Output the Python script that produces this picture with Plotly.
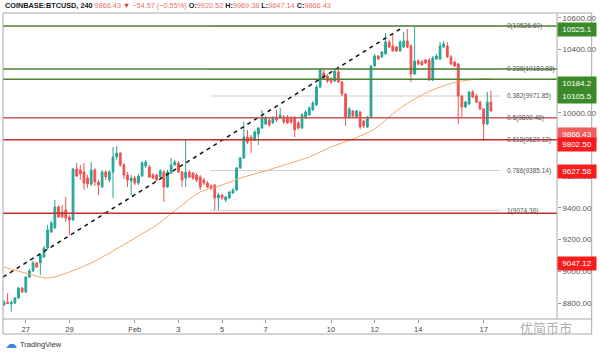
import plotly.graph_objects as go
import pandas as pd

# ---- candle data (BTCUSD, 4h) ----
opens = [8787, 8806, 8794, 8800, 8832, 8895, 8870, 8964, 9002, 9053,
         9053, 9090, 9147, 9248, 9274, 9406, 9375, 9387, 9343, 9324,
         9646, 9640, 9627, 9589, 9551, 9640, 9564, 9533, 9627, 9577,
         9627, 9722, 9747, 9672, 9608, 9570, 9589, 9558, 9602, 9665,
         9659, 9608, 9608, 9596, 9627, 9533, 9621, 9672, 9684, 9627,
         9589, 9627, 9621, 9608, 9596, 9577, 9558, 9539, 9545, 9463,
         9482, 9450, 9463, 9495, 9514, 9653, 9716, 9848, 9848, 9829,
         9867, 9905, 9930, 9956, 9937, 9975, 9968, 9975, 9975, 9968,
         9968, 9937, 9905, 9968, 9987, 10019, 10050, 10164, 10253, 10234,
         10215, 10202, 10259, 10196, 10120, 9975, 10013, 9975, 10006, 9949,
         9912, 9975, 10297, 10360, 10354, 10373, 10448, 10423, 10417, 10392,
         10417, 10455, 10423, 10246, 10328, 10322, 10335, 10335, 10208, 10341,
         10341, 10417, 10423, 10354, 10322, 10309, 10107, 10038, 10057, 10133,
         10107, 10069, 10025, 9930, 10069]
highs = [8819, 8863, 8813, 8838, 8901, 8901, 8970, 9015, 9065, 9059,
         9109, 9160, 9293, 9318, 9451, 9419, 9419, 9469, 9356, 9653,
         9684, 9672, 9684, 9608, 9690, 9653, 9577, 9640, 9640, 9640,
         9785, 9791, 9753, 9684, 9627, 9608, 9602, 9615, 9697, 9703,
         9672, 9621, 9615, 9646, 9640, 9640, 9716, 9703, 9697, 9634,
         9829, 9640, 9627, 9621, 9608, 9589, 9570, 9551, 9551, 9495,
         9488, 9476, 9507, 9526, 9659, 9722, 9943, 9893, 9861, 9893,
         9911, 10019, 9981, 9968, 9981, 10019, 10032, 9987, 9987, 9981,
         9981, 9949, 10000, 10019, 10044, 10076, 10177, 10278, 10272, 10246,
         10227, 10278, 10278, 10202, 10126, 10038, 10019, 10019, 10013, 9956,
         9981, 10303, 10373, 10366, 10391, 10505, 10461, 10499, 10423, 10461,
         10512, 10531, 10436, 10543, 10341, 10335, 10341, 10347, 10360, 10373,
         10448, 10455, 10448, 10366, 10328, 10316, 10114, 10076, 10139, 10145,
         10120, 10076, 10032, 10133, 10139]
lows = [8781, 8794, 8745, 8794, 8825, 8863, 8863, 8958, 8996, 9021,
        8977, 9084, 9141, 9242, 9267, 9337, 9337, 9312, 9229, 9318,
        9596, 9577, 9514, 9526, 9539, 9539, 9482, 9526, 9577, 9564,
        9463, 9703, 9659, 9583, 9533, 9482, 9545, 9545, 9596, 9653,
        9589, 9583, 9570, 9589, 9438, 9526, 9615, 9665, 9621, 9533,
        9533, 9589, 9577, 9564, 9514, 9545, 9526, 9514, 9387, 9387,
        9450, 9438, 9457, 9488, 9507, 9646, 9709, 9804, 9747, 9823,
        9798, 9899, 9924, 9912, 9930, 9943, 9962, 9930, 9930, 9930,
        9848, 9893, 9899, 9962, 9981, 10013, 10044, 10158, 10215, 10189,
        10183, 10196, 10189, 10107, 9918, 9968, 9975, 9968, 9899, 9905,
        9905, 9968, 10291, 10335, 10347, 10366, 10410, 10385, 10385, 10385,
        10410, 10410, 10196, 10240, 10303, 10297, 10309, 10202, 10202, 10335,
        10335, 10410, 10347, 10303, 10291, 9930, 9975, 10032, 10050, 10095,
        10063, 10019, 9823, 9924, 10006]
closes = [8806, 8797, 8803, 8832, 8895, 8870, 8964, 9002, 9053, 9027,
          9103, 9147, 9261, 9305, 9406, 9343, 9343, 9337, 9324, 9646,
          9602, 9615, 9558, 9551, 9640, 9564, 9545, 9627, 9596, 9627,
          9722, 9747, 9672, 9608, 9577, 9589, 9558, 9602, 9684, 9690,
          9596, 9589, 9577, 9634, 9533, 9627, 9672, 9690, 9627, 9577,
          9627, 9596, 9589, 9577, 9533, 9558, 9533, 9526, 9463, 9482,
          9463, 9469, 9501, 9514, 9653, 9716, 9848, 9817, 9829, 9880,
          9905, 9968, 9968, 9924, 9968, 9956, 9987, 9943, 9937, 9943,
          9893, 9905, 9987, 10006, 10032, 10063, 10164, 10272, 10221, 10202,
          10196, 10265, 10196, 10120, 9975, 10025, 9981, 10013, 9912, 9918,
          9975, 10297, 10360, 10341, 10385, 10448, 10417, 10392, 10392, 10448,
          10455, 10417, 10246, 10328, 10309, 10303, 10316, 10208, 10347, 10360,
          10423, 10436, 10354, 10309, 10297, 10107, 10038, 10069, 10133, 10101,
          10069, 10025, 9930, 10069, 10013]
first_candle = "2020-01-26 00:00"
times = pd.date_range(first_candle, periods=len(opens), freq="4h")

# ---- moving average ----
ma_dates = ["2020-01-26", "2020-01-27", "2020-01-28", "2020-01-29", "2020-01-30",
            "2020-01-31", "2020-02-01", "2020-02-02", "2020-02-03", "2020-02-04",
            "2020-02-05", "2020-02-06", "2020-02-07", "2020-02-08", "2020-02-09",
            "2020-02-10", "2020-02-11", "2020-02-12", "2020-02-13", "2020-02-14",
            "2020-02-15", "2020-02-16", "2020-02-17", "2020-02-17 08:00"]
ma_values = [9027, 8989, 8958, 8996, 9053, 9128, 9210, 9293, 9400, 9501,
             9545, 9596, 9634, 9678, 9722, 9785, 9836, 9899, 10013, 10101,
             10164, 10202, 10215, 10215]

# ---- drawings ----
trend_dates = ["2020-01-25 23:00", "2020-02-13 07:40"]
trend_values = [8964, 10543]
green_levels = [10549, 10278, 10213]
red_levels = [9970, 9831, 9366]
fib_text = ["0(10526.60)", "0.236(10183.88)", "0.382(9971.85)", "0.5(9800.48)",
            "0.618(9629.12)", "0.786(9385.14)", "1(9074.36)"]
fib_pos = [10549, 10278, 10107, 9970, 9831, 9636, 9383]
fib_start, fib_end, fib_label_x = "2020-02-04 11:00", "2020-02-17 18:30", "2020-02-17 23:30"
tag_values = [10525.1, 10184.2, 10105.5, 9866.43, 9802.50, 9627.58, 9047.12]
tag_text = ["10525.1", "10184.2", "10105.5", "9866.43", "9802.50", "9627.58", "9047.12"]
tag_colors = ["#3b8a2a", "#3b8a2a", "#3b8a2a", "#f05d5d", "#f51d1d", "#f51d1d", "#f51d1d"]

ytick_vals = [8800, 9000, 9200, 9400, 9600, 9800, 10000, 10200, 10400, 10600]
ytick_hidden = [9800, 10200]   # fully covered by price tags in the reference
xtick_vals = ["2020-01-27", "2020-01-29", "2020-02-01", "2020-02-03", "2020-02-05",
              "2020-02-07", "2020-02-10", "2020-02-12", "2020-02-14", "2020-02-17"]
xtick_text = ["27", "29", "Feb", "3", "5", "7", "10", "12", "14", "17"]

FONT = "Liberation Sans, Arial, sans-serif"
UP, DOWN = "#26a69a", "#ef5350"

fig = go.Figure()
fig.add_trace(go.Scatter(x=ma_dates, y=ma_values, mode="lines",
                         line=dict(color="#f2a66a", width=1, shape="spline"),
                         hoverinfo="skip"))
fig.add_trace(go.Candlestick(x=times, open=opens, high=highs, low=lows, close=closes,
                             increasing=dict(line=dict(color=UP, width=1), fillcolor=UP),
                             decreasing=dict(line=dict(color=DOWN, width=1), fillcolor=DOWN),
                             whiskerwidth=0))
fig.add_trace(go.Scatter(x=trend_dates, y=trend_values, mode="lines",
                         line=dict(color="#111111", width=1.5, dash="4px,4px"),
                         hoverinfo="skip"))

shapes = []
for v in fib_pos:
    shapes.append(dict(type="line", xref="x", yref="y", x0=fib_start, x1=fib_end,
                       y0=v, y1=v, line=dict(color="#cfcfcf", width=1), layer="below"))
for v in green_levels:
    shapes.append(dict(type="line", xref="paper", yref="y", x0=0, x1=1, y0=v, y1=v,
                       line=dict(color="#4d7f33", width=1.5), layer="above"))
for k, v in enumerate(red_levels):
    shapes.append(dict(type="line", xref="paper", yref="y", x0=0, x1=1, y0=v, y1=v,
                       line=dict(color="#c85a5a" if k == 0 else "#c0302c", width=1.5),
                       layer="above"))
# chart frame
frame = "#a8a8a8"
shapes += [
    dict(type="rect", xref="paper", yref="paper", x0=0, x1=1.0626, y0=-0.0492, y1=1.0033,
         line=dict(color=frame, width=1)),
    dict(type="line", xref="paper", yref="paper", x0=0, x1=1.0626, y0=0, y1=0,
         line=dict(color=frame, width=1)),
    dict(type="line", xref="paper", yref="paper", x0=1, x1=1, y0=0, y1=1.0033,
         line=dict(color=frame, width=1)),
]

ann = []
for t, v in zip(fib_text, fib_pos):
    ann.append(dict(x=fib_label_x, y=v, xref="x", yref="y", text=t, showarrow=False,
                    xanchor="left", yanchor="middle", font=dict(family=FONT, size=6.5, color="#555")))
for t, v, c in zip(tag_text, tag_values, tag_colors):
    ann.append(dict(x=1, y=v, xref="paper", yref="y", text=t, showarrow=False,
                    xanchor="left", yanchor="middle", bgcolor=c, width=36, height=11,
                    borderpad=1, align="center",
                    font=dict(family=FONT, size=8, color="white")))
sal = "#e8736b"
header = ("<b>COINBASE:BTCUSD, 240</b> "
          f"<span style='color:{sal}'>9866.43</span> <span style='color:#e53935'>▼</span> "
          f"<span style='color:{sal}'>−54.57 (−0.55%)</span> "
          f"<b>O:</b><span style='color:{sal}'>9920.52</span> "
          f"<b>H:</b><span style='color:{sal}'>9969.38</span> "
          f"<b>L:</b><span style='color:{sal}'>9847.14</span> "
          f"<b>C:</b><span style='color:{sal}'>9866.43</span>")
ann.append(dict(x=0, y=1.029, xref="paper", yref="paper", text=header, showarrow=False,
                xanchor="left", yanchor="middle", font=dict(family=FONT, size=7.3, color="#131722")))
ann.append(dict(x=0.0, y=-0.083, xref="paper", yref="paper", text="☁", showarrow=False,
                xanchor="left", yanchor="middle", font=dict(family="DejaVu Sans", size=12, color="#2f8ae0")))
ann.append(dict(x=0.027, y=-0.083, xref="paper", yref="paper", text="TradingView", showarrow=False,
                xanchor="left", yanchor="middle", font=dict(family=FONT, size=7.5, color="#333")))
ann.append(dict(x=0.93, y=-0.027, xref="paper", yref="paper", text="优简币市", showarrow=False,
                xanchor="left", yanchor="middle",
                font=dict(family="Noto Sans CJK SC", size=13, color="rgba(150,150,150,0.8)")))

fig.update_layout(
    width=600, height=354,
    margin=dict(l=3, r=38, t=14, b=35),
    paper_bgcolor="white", plot_bgcolor="white",
    showlegend=False,
    shapes=shapes, annotations=ann,
    xaxis=dict(type="date", range=["2020-01-25 22:54:33", "2020-02-20 08:43:38"],
               rangeslider=dict(visible=False), showgrid=False, zeroline=False,
               tickvals=xtick_vals, ticktext=xtick_text, ticks="outside", ticklen=3,
               tickcolor="#999", tickfont=dict(family=FONT, size=7.5, color="#444")),
    yaxis=dict(side="right", range=[8699, 10625], showgrid=False, zeroline=False,
               tickvals=ytick_vals,
               ticktext=["" if v in ytick_hidden else f"{v:.2f}" for v in ytick_vals],
               ticks="outside", ticklen=3, tickcolor="#999",
               tickfont=dict(family=FONT, size=8, color="#555")),
)
fig.write_html("out.html")
